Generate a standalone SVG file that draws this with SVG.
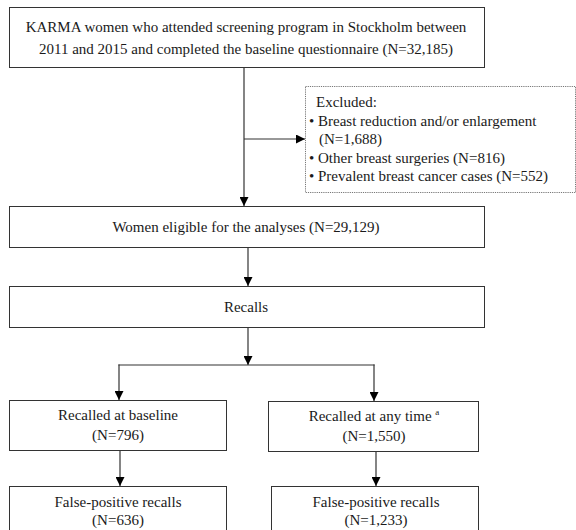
<svg xmlns="http://www.w3.org/2000/svg" width="576" height="530" viewBox="0 0 576 530">
<style>
.box{fill:#fff;stroke:#333;stroke-width:1}
.dot{fill:#fff;stroke:#777;stroke-width:1;stroke-dasharray:1.2 1}
.t{font-family:"Liberation Serif","Times New Roman",serif;font-size:15px;fill:#1a1a1a}
.c{text-anchor:middle}
.ln{fill:none;stroke:#333;stroke-width:1.2}
</style>
<defs>
<marker id="ah" viewBox="0 0 10 10" refX="10" refY="5" markerWidth="9" markerHeight="9" markerUnits="userSpaceOnUse" orient="auto">
<path d="M0,0 L10,5 L0,10 Z" fill="#000"/>
</marker>
</defs>
<rect width="576" height="530" fill="#fff"/>
<g id="connectors">
<line class="ln" x1="244" y1="67" x2="244" y2="206" marker-end="url(#ah)"/>
<line class="ln" x1="244" y1="139" x2="305" y2="139" marker-end="url(#ah)"/>
<line class="ln" x1="248" y1="247" x2="248" y2="286" marker-end="url(#ah)"/>
<line class="ln" x1="248" y1="327" x2="248" y2="365" marker-end="url(#ah)"/>
<line class="ln" x1="118.4" y1="365" x2="374.6" y2="365"/>
<line class="ln" x1="119" y1="364.4" x2="119" y2="400" marker-end="url(#ah)"/>
<line class="ln" x1="374" y1="364.4" x2="374" y2="401" marker-end="url(#ah)"/>
<line class="ln" x1="120" y1="450" x2="120" y2="486" marker-end="url(#ah)"/>
<line class="ln" x1="376" y1="451" x2="376" y2="486" marker-end="url(#ah)"/>
</g>
<g id="n1"><rect class="box" x="9.5" y="7.5" width="475" height="60"/>
<text class="t c" x="246" y="32">KARMA women who attended screening program in Stockholm between</text>
<text class="t c" x="246" y="54">2011 and 2015 and completed the baseline questionnaire (N=32,185)</text></g>
<g id="excluded"><rect class="dot" x="305.5" y="86.5" width="270" height="106"/>
<text class="t" x="316" y="107">Excluded:</text>
<text class="t" x="309" y="126">• Breast reduction and/or enlargement</text>
<text class="t" x="319" y="144">(N=1,688)</text>
<text class="t" x="309" y="163">• Other breast surgeries (N=816)</text>
<text class="t" x="309" y="181">• Prevalent  breast cancer cases (N=552)</text></g>
<g id="n2"><rect class="box" x="9.5" y="206.5" width="475" height="41"/>
<text class="t c" x="246" y="232">Women eligible  for the analyses (N=29,129)</text></g>
<g id="n3"><rect class="box" x="9.5" y="286.5" width="475" height="41"/>
<text class="t c" x="246" y="312">Recalls</text></g>
<g id="n4"><rect class="box" x="9.5" y="400.5" width="217" height="50"/>
<text class="t c" x="118" y="420">Recalled at baseline</text>
<text class="t c" x="118" y="440">(N=796)</text></g>
<g id="n5"><rect class="box" x="268.5" y="401.5" width="210" height="50"/>
<text class="t c" x="374" y="421">Recalled at any time <tspan font-size="9" dy="-6">a</tspan></text>
<text class="t c" x="374" y="441">(N=1,550)</text></g>
<g id="n6"><rect class="box" x="9.5" y="486.5" width="217" height="50"/>
<text class="t c" x="118" y="507">False-positive recalls</text>
<text class="t c" x="118" y="525">(N=636)</text></g>
<g id="n7"><rect class="box" x="271.5" y="486.5" width="207" height="50"/>
<text class="t c" x="376" y="507">False-positive recalls</text>
<text class="t c" x="376" y="525">(N=1,233)</text></g>
</svg>
